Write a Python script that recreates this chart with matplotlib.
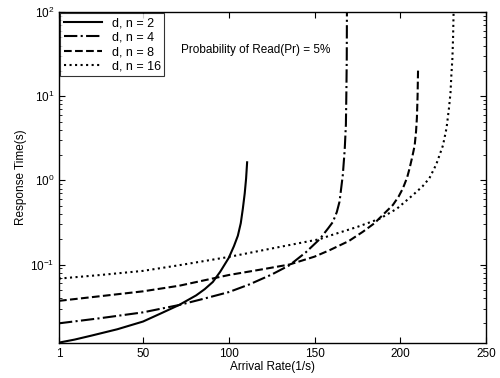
import matplotlib
matplotlib.use("Agg")
import matplotlib.pyplot as plt
from matplotlib.ticker import LogLocator, NullFormatter

plt.rcParams['font.family'] = ['Liberation Sans', 'DejaVu Sans']

# values
x_n2 = [1, 10, 20, 35, 50, 60, 71, 81, 86, 90.7, 95, 100, 103, 105.3, 107, 108.2, 109.3, 110.1, 110.7]
y_n2 = [0.0118, 0.0128, 0.0143, 0.017, 0.021, 0.026, 0.033, 0.043, 0.051, 0.062, 0.082, 0.12, 0.165, 0.22, 0.31, 0.46, 0.7, 1.05, 1.64]

x_n4 = [1, 25, 50, 71, 85, 100, 112, 125, 135.4, 145, 153, 158, 160.7, 163, 164.6, 166.5, 167.6, 168.3, 168.6, 168.8, 168.9]
y_n4 = [0.020, 0.023, 0.027, 0.033, 0.039, 0.047, 0.058, 0.076, 0.098, 0.14, 0.2, 0.27, 0.32, 0.42, 0.56, 1.16, 2.3, 4.6, 12, 28, 100]

x_n8 = [1, 25, 50, 71.2, 100, 120, 135.4, 150, 158.8, 170, 178.2, 185, 189.9, 195.7, 199, 201.5, 204, 205.4, 207, 208.4, 209.2, 209.7, 210.1, 210.4]
y_n8 = [0.037, 0.042, 0.048, 0.056, 0.075, 0.088, 0.10, 0.124, 0.148, 0.19, 0.245, 0.31, 0.39, 0.51, 0.64, 0.80, 1.08, 1.38, 1.9, 2.6, 3.8, 5.5, 10, 22]

x_n16 = [1, 25, 50, 71, 100, 125, 153, 158.8, 175, 188, 198, 207.4, 213, 217, 221, 224.9, 227, 228.4, 229.3, 229.8, 230.4, 230.8, 231.1]
y_n16 = [0.068, 0.075, 0.084, 0.098, 0.123, 0.155, 0.2, 0.22, 0.28, 0.35, 0.46, 0.67, 0.85, 1.06, 1.55, 2.6, 4.2, 7.2, 11, 17.8, 28, 50, 100]

labels = ['d, n = 2', 'd, n = 4', 'd, n = 8', 'd, n = 16']
xticks = [1, 50, 100, 150, 200, 250]

fig = plt.figure(figsize=(5.0, 3.78), dpi=100)
ax = fig.add_axes([0.118, 0.092, 0.854, 0.876])

ax.semilogy(x_n2, y_n2, color='black', linestyle='-', linewidth=1.5, label=labels[0])
ax.semilogy(x_n4, y_n4, color='black', linestyle='-.', linewidth=1.5, label=labels[1])
ax.semilogy(x_n8, y_n8, color='black', linestyle='--', linewidth=1.5, label=labels[2])
ax.semilogy(x_n16, y_n16, color='black', linestyle=':', linewidth=1.5, label=labels[3])

ax.set_xlim(1, 250)
ax.set_ylim(0.0116, 100)
ax.set_xticks(xticks)
ax.set_xticklabels([str(t) for t in xticks])
ax.yaxis.set_major_locator(LogLocator(base=10, numticks=10))
ax.yaxis.set_minor_locator(LogLocator(base=10, subs=range(2, 10), numticks=20))
ax.yaxis.set_minor_formatter(NullFormatter())
ax.tick_params(direction='in', which='both', top=True, right=True, labelsize=8.5)
ax.tick_params(which='major', length=4)
ax.tick_params(which='minor', length=2)

ax.set_xlabel('Arrival Rate(1/s)', fontsize=8.5, labelpad=1)
ax.set_ylabel('Response Time(s)', fontsize=8.5, labelpad=2)

ax.text(0.46, 0.885, 'Probability of Read(Pr) = 5%', transform=ax.transAxes,
        fontsize=8.5, ha='center', va='center')

leg = ax.legend(loc='upper left', fontsize=9, frameon=True, fancybox=False,
                edgecolor='black', borderaxespad=0.1, handlelength=3.0,
                labelspacing=0.2, borderpad=0.3)
leg.get_frame().set_linewidth(0.8)

for s in ax.spines.values():
    s.set_linewidth(1.0)

fig.savefig('out.png', dpi=100)
